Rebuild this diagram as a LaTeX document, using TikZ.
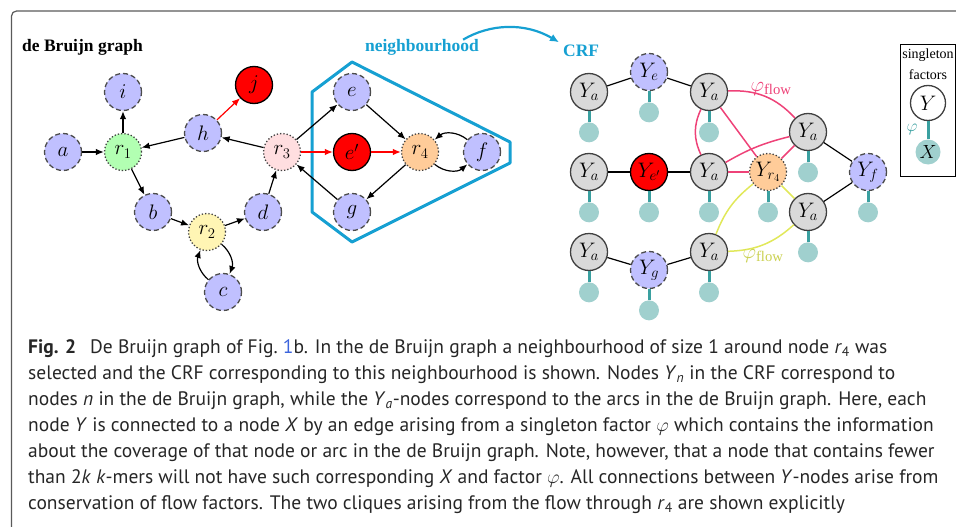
\RequirePackage{fix-cm}
\documentclass[tikz,border=0pt]{standalone}
\usepackage{amsmath}
\usepackage[no-math]{fontspec}
\setmainfont{Liberation Serif}
\newfontfamily\capfont{PT Sans}
\usetikzlibrary{arrows.meta,positioning}

\definecolor{nbblue}{RGB}{22,160,210}
\definecolor{seqfill}{RGB}{192,192,255}
\definecolor{ronefill}{RGB}{178,255,178}
\definecolor{rtwofill}{RGB}{255,245,180}
\definecolor{rthrfill}{RGB}{255,222,224}
\definecolor{rforfill}{RGB}{255,204,153}
\definecolor{arcfill}{RGB}{217,217,217}
\definecolor{obsfill}{RGB}{160,208,206}
\definecolor{stemcol}{RGB}{58,160,160}
\definecolor{flowpink}{RGB}{238,66,120}
\definecolor{flowyel}{RGB}{225,232,90}
\definecolor{linkblue}{RGB}{60,100,220}
\definecolor{framegray}{RGB}{90,90,90}

\begin{document}
\begin{tikzpicture}[x=1pt,y=1pt,
		lab/.style={font=\fontsize{17.5}{20}\selectfont\bfseries},
		vtx/.style={circle,minimum size=37pt,inner sep=0pt,line width=1.3pt,font=\fontsize{21}{25}\selectfont},
		seq/.style={vtx,draw=black!70,fill=seqfill,dash pattern=on 5pt off 3pt},
		rep/.style={vtx,draw=black!75,dotted},
		err/.style={vtx,draw=black,fill=red},
		arcnode/.style={vtx,draw=black!75,fill=arcfill},
		obs/.style={circle,fill=obsfill,minimum size=20pt,inner sep=0pt},
		stemline/.style={draw=stemcol,line width=3pt},
		arr/.style={-{Latex[length=8pt,width=6.5pt]},line width=1.2pt},
		link/.style={line width=1.2pt},
		pinkflow/.style={draw=flowpink,line width=1.5pt},
		yelflow/.style={draw=flowyel,line width=1.5pt},
		flowlab/.style={font=\fontsize{21}{24}\selectfont},
		legtxt/.style={font=\fontsize{14}{16}\selectfont,inner sep=0pt},
		captext/.style={font=\capfont\fontsize{19.5}{26}\selectfont,align=left,inner sep=0pt,text=black!85}
		]
		\useasboundingbox (0,0) rectangle (956,-527);
		
		% --- Page frame
		\draw[framegray,line width=1.2pt,rounded corners=5pt] (956,-11) -- (11.5,-11) -- (11.5,-527);
		
		% --- Titles
		\node[lab,anchor=base west,inner sep=0pt] (dbg) at (22,-52) {de Bruijn graph};
		\node[lab,text=nbblue,anchor=base,inner sep=0pt] (nb) at (422,-52) {neighbourhood};
		\node[lab,text=nbblue,anchor=base west,inner sep=0pt] (crf) at (563,-57) {CRF};
		\draw[-{Latex[length=9pt,width=8pt]},nbblue,line width=2.2pt]
		([xshift=-16pt]nb.north east) .. controls +(27,16) and +(-34,20) .. ([shift={(-4,3)}]crf.north west);
		
		% --- Neighbourhood of r4
		\draw[nbblue,line width=3pt,line join=round] (352,-62) -- (312,-92) -- (312,-212) -- (352,-242)
		-- (510,-163) -- (510,-142) -- cycle;
		
		% --- de Bruijn graph
		\node[seq] (a) at (63,-152) {$a$};
		\node[rep,fill=ronefill] (r1) at (123,-152) {$r_1$};
		\node[seq] (i) at (123,-92) {$i$};
		\node[seq] (h) at (203,-133) {$h$};
		\node[err] (j) at (254,-85) {$j$};
		\node[rep,fill=rthrfill] (r3) at (282,-152) {$r_3$};
		\node[seq] (b) at (153,-212) {$b$};
		\node[rep,fill=rtwofill] (r2) at (207,-232) {$r_2$};
		\node[seq] (d) at (263,-212) {$d$};
		\node[seq] (c) at (223,-292) {$c$};
		\node[seq] (e) at (352,-92) {$e$};
		\node[err] (ep) at (352,-152) {$e'$};
		\node[rep,fill=rforfill] (r4) at (420,-152) {$r_4$};
		\node[seq] (f) at (482,-152) {$f$};
		\node[seq] (g) at (352,-212) {$g$};
		
		\draw[arr] (a) -- (r1);
		\draw[arr] (r1) -- (i);
		\draw[arr] (h) -- (r1);
		\draw[arr] (r1) -- (b);
		\draw[arr] (b) -- (r2);
		\draw[arr] (r2) -- (d);
		\draw[arr] (d) -- (r3);
		\draw[arr] (r3) -- (h);
		\draw[arr,red] (h) -- (j);
		\draw[arr] (r2) to[bend left=35] (c);
		\draw[arr] (c) to[bend left=35] (r2);
		\draw[arr] (r3) -- (e);
		\draw[arr,red] (r3) -- (ep);
		\draw[arr,red] (ep) -- (r4);
		\draw[arr] (e) -- (r4);
		\draw[arr] (r4) -- (g);
		\draw[arr] (g) -- (r3);
		\draw[arr] (r4) to[bend right=40] (f);
		\draw[arr] (f) to[bend right=40] (r4);
		
		% --- CRF
		\node[arcnode] (ya11) at (589,-92) {$Y_a$};
		\node[seq] (ye) at (649,-72) {$Y_e$};
		\node[arcnode] (ya13) at (709,-92) {$Y_a$};
		\node[arcnode] (ya21) at (589,-172) {$Y_a$};
		\node[err] (yep) at (649,-172) {$Y_{e'}$};
		\node[arcnode] (ya23) at (709,-172) {$Y_a$};
		\node[arcnode] (ya31) at (589,-252) {$Y_a$};
		\node[seq] (yg) at (649,-270) {$Y_g$};
		\node[arcnode] (ya33) at (709,-252) {$Y_a$};
		\node[rep,fill=rforfill] (yr4) at (768,-172) {$Y_{r_4}$};
		\node[arcnode] (yau) at (808,-132) {$Y_a$};
		\node[arcnode] (yal) at (808,-212) {$Y_a$};
		\node[seq] (yf) at (868,-172) {$Y_f$};
		
		\draw[link] (ya11) -- (ye) -- (ya13);
		\draw[link] (ya21) -- (yep) -- (ya23);
		\draw[link] (ya31) -- (yg) -- (ya33);
		\draw[link] (yau) -- (yf) -- (yal);
		
		% singleton factors
		\foreach \n in {ya11,ye,ya13,ya21,yep,ya23,ya31,yg,ya33,yr4,yau,yal,yf}{
			\node[obs,below=11pt of \n] (x\n) {};
			\draw[stemline] (\n) -- (x\n);
		}
		
		% flow cliques through r4
		\draw[pinkflow] (ya13) to[bend left=25] (yau);
		\draw[pinkflow] (ya13) to[bend right=25] (ya23);
		\draw[pinkflow] (ya13) -- (yr4);
		\draw[pinkflow] (ya23) -- (yr4);
		\draw[pinkflow] (ya23) to[bend left=8] (yau);
		\draw[pinkflow] (yr4) -- (yau);
		\node[flowlab,text=flowpink] (pflow) at (771,-89) {$\varphi_{\text{flow}}$};
		
		\draw[yelflow] (yr4) to[bend right=15] (ya33);
		\draw[yelflow] (yr4) -- (yal);
		\draw[yelflow] (ya33) to[bend right=20] (yal);
		\node[flowlab,text=flowyel!90!black] (yflow) at (763,-256) {$\varphi_{\text{flow}}$};
		
		% --- Legend
		\node[draw,line width=0.8pt,minimum width=55pt,minimum height=132pt,inner sep=0pt] (legbox) at (927.5,-110) {};
		\node[legtxt] (legone) at (928,-55) {singleton};
		\node[legtxt] (legtwo) at (928,-75) {factors};
		\node[vtx,draw=black!75,fill=white,minimum size=35pt] (ly) at (928,-103) {$Y$};
		\node[obs,minimum size=25pt,font=\fontsize{19}{22}\selectfont] (lx) at (928,-152) {$X$};
		\draw[stemline] (ly) -- (lx);
		\node[font=\fontsize{17}{20}\selectfont,text=stemcol] (lphi) at (912,-129) {$\varphi$};
		
		% --- Caption
		\node[captext,anchor=north west] (caption) at (28,-339) {%
			\textbf{Fig. 2}\hspace{0.45em} De Bruijn graph of Fig.~\textcolor{linkblue}{1}b. In the de Bruijn graph a neighbourhood of size 1 around node \textit{r}\textsubscript{4} was\\
			selected and the CRF corresponding to this neighbourhood is shown. Nodes \textit{Y}\textsubscript{\textit{n}} in the CRF correspond to\\
			nodes \textit{n} in the de Bruijn graph, while the \textit{Y}\textsubscript{\textit{a}}-nodes correspond to the arcs in the de Bruijn graph. Here, each\\
			node \textit{Y} is connected to a node \textit{X} by an edge arising from a singleton factor $\varphi$ which contains the information\\
			about the coverage of that node or arc in the de Bruijn graph. Note, however, that a node that contains fewer\\
			than 2\textit{k} \textit{k}-mers will not have such corresponding \textit{X} and factor $\varphi$. All connections between \textit{Y}-nodes arise from\\
			conservation of flow factors. The two cliques arising from the flow through \textit{r}\textsubscript{4} are shown explicitly};
		
	\end{tikzpicture}
\end{document}
